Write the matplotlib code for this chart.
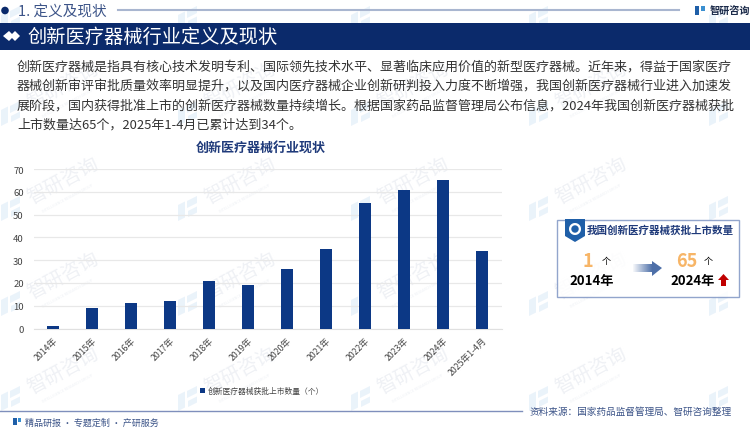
import matplotlib
matplotlib.use("Agg")
import matplotlib.pyplot as plt
from matplotlib.patches import Polygon, Rectangle, Circle, Wedge

plt.rcParams['font.family'] = ['Noto Sans CJK SC', 'DejaVu Sans']

years = ['2014年', '2015年', '2016年', '2017年', '2018年', '2019年', '2020年',
         '2021年', '2022年', '2023年', '2024年', '2025年1-4月']
counts = [1, 9, 11, 12, 21, 19, 26, 35, 55, 61, 65, 34]
yticks = [0, 10, 20, 30, 40, 50, 60, 70]

body_lines = [
    '创新医疗器械是指具有核心技术发明专利、国际领先技术水平、显著临床应用价值的新型医疗器械。近年来，得益于国家医疗',
    '器械创新审评审批质量效率明显提升，以及国内医疗器械企业创新研判投入力度不断增强，我国创新医疗器械行业进入加速发',
    '展阶段，国内获得批准上市的创新医疗器械数量持续增长。根据国家药品监督管理局公布信息，2024年我国创新医疗器械获批',
    '上市数量达65个，2025年1-4月已累计达到34个。',
]

NAVY = '#0b2a6b'
BAR = '#0c3885'
W, H = 750, 431

fig = plt.figure(figsize=(7.5, 4.31), dpi=100)

# page layer in pixel coords, y pointing down
bg = fig.add_axes([0, 0, 1, 1], zorder=0)
bg.set_xlim(0, W)
bg.set_ylim(H, 0)
bg.axis('off')


def watermark(x, y):
    # logo blocks plus the slanted name
    for dx, dy, w, h in [(-9, -4, 7, 16), (0, -8, 10, 7), (1, 2, 9, 6)]:
        bg.add_patch(Polygon([(x + dx, y + dy), (x + dx + w, y + dy - w * 0.5),
                              (x + dx + w, y + dy - w * 0.5 + h), (x + dx, y + dy + h)],
                             color='#eaf3fa', lw=0, zorder=0))
    # the name only where it fits on the page
    if y - 50 < 0 or x + 95 > W:
        return
    bg.text(x + 53, y - 29, '智研咨询', fontsize=14, color='#eff1f5', rotation=28,
            ha='center', va='center', zorder=0)
    bg.text(x + 58, y - 11, 'INTELLIGENCE RESEARCH GROUP', fontsize=2.6, color='#eef1f5',
            rotation=28, ha='center', va='center', zorder=0)


for wy in [20, 115, 210, 305, 400]:
    for wx in [10, 187, 360, 538, 718]:
        watermark(wx, wy)

# section header
bg.add_patch(Circle((5, 11.5), 3.8, color=NAVY, lw=0))
bg.text(18, 12, '1. 定义及现状', fontsize=10.5, color='#3c5488', va='center')
bg.plot([118, 679], [11, 11], color='#a9b6d0', lw=1.5)

# logo
bg.add_patch(Rectangle((695, 7), 4, 9, color='#1f5fa8', lw=0))
bg.add_patch(Rectangle((701, 7), 4, 5, color='#3a8fd0', lw=0))
bg.text(710, 11, '智研咨询', fontsize=7.3, color='#1c2b4a', va='center',
        fontweight='bold')

# title band
bg.add_patch(Rectangle((0, 23.5), W, 27, color=NAVY, lw=0, zorder=2))
bg.add_patch(Polygon([(3, 37), (9, 32), (14, 37), (9, 42)], color='white', lw=0, zorder=3))
bg.add_patch(Polygon([(10, 37), (15, 32), (20, 37), (15, 42)], color='white', lw=0, zorder=3))
bg.text(27, 37, '创新医疗器械行业定义及现状', fontsize=13.85, color='white', va='center',
        zorder=3)

# intro paragraph
for i, line in enumerate(body_lines):
    bg.text(17, 67 + i * 19.3, line, fontsize=9.36, color='#333333', va='center')

# chart title
bg.text(261, 149, '创新医疗器械行业现状', fontsize=9.36, color='#1f3a7a',
        ha='center', va='center', fontweight='bold')

# callout box
bg.add_patch(Rectangle((556.5, 221), 182, 77, fc='white', ec='#7f95c4', lw=1, alpha=0.85))
bg.add_patch(Polygon([(565, 220), (585, 220), (585, 237), (575, 243), (565, 237)],
                     color='#1f5fa8', lw=0))
bg.add_patch(Wedge((575, 230), 6, 0, 360, width=2.3, color='white', lw=0))
bg.text(587, 231, '我国创新医疗器械获批上市数量', fontsize=7.6, color='#1f3a7a',
        va='center', fontweight='bold')
bg.text(588, 262, '1', fontsize=13, color='#f7b567', ha='center', va='center',
        fontweight='bold')
bg.text(606, 262, '个', fontsize=6.5, color='black', ha='center', va='center')
bg.text(592, 281, '2014年', fontsize=9.5, color='black', ha='center', va='center',
        fontweight='bold')
bg.text(687, 262, '65', fontsize=13, color='#f7b567', ha='center', va='center',
        fontweight='bold')
bg.text(708, 262, '个', fontsize=6.5, color='black', ha='center', va='center')
bg.text(693, 281, '2024年', fontsize=9.5, color='black', ha='center', va='center',
        fontweight='bold')
# grey-blue arrow, fading to the left
for k in range(19):
    bg.add_patch(Rectangle((633 + k, 265), 1.1, 8, lw=0, color='#4d6fa8',
                           alpha=0.06 + 0.05 * k))
bg.add_patch(Polygon([(652, 262), (662, 269), (652, 277)], color='#4d6fa8', lw=0))
bg.add_patch(Polygon([(718, 281), (723.5, 275), (729, 281), (726, 281), (726, 287),
                      (721, 287), (721, 281)], color='#c00000', lw=0))

# footer
bg.plot([0, 522], [412.5, 412.5], color='#7f8fbc', lw=1)
bg.add_patch(Rectangle((13, 419), 4, 7, color='#1f5fa8', lw=0))
bg.add_patch(Rectangle((18, 419), 3, 4, color='#3a8fd0', lw=0))
bg.text(25, 423, '精品研报 · 专题定制 · 产研服务', fontsize=6.5, color='#3c5488',
        va='center')
bg.text(530, 411.5, '资料来源：国家药品监督管理局、智研咨询整理', fontsize=6.95,
        color='#3c5488', va='center')

# bar chart
ax = fig.add_axes([33.5 / W, 1 - 329.5 / H, 468 / W, 159.5 / H], zorder=1)
ax.patch.set_alpha(0)
xs = list(range(len(years)))
ax.bar(xs, counts, width=0.33, color=BAR, zorder=3, label='创新医疗器械获批上市数量（个）')
ax.set_xlim(-0.5, len(years) - 0.5)
ax.set_ylim(0, 70)
ax.set_yticks(yticks)
ax.set_xticks(xs)
ax.set_xticklabels(years, rotation=45, ha='right', rotation_mode='anchor')
ax.tick_params(axis='both', length=0, labelcolor='#444444')
ax.tick_params(axis='x', pad=5, labelsize=6.3)
ax.tick_params(axis='y', pad=7, labelsize=6.8)
ax.grid(axis='y', color='#e8e8e8', lw=0.9, zorder=0)
ax.set_axisbelow(True)
for name in ['top', 'left', 'right']:
    ax.spines[name].set_visible(False)
ax.spines['bottom'].set_color('#e0e0e0')
ax.legend(loc='center', bbox_to_anchor=(262 / W, 1 - 392 / H), bbox_transform=fig.transFigure,
          frameon=False, fontsize=5.6, handlelength=0.7, handleheight=0.7,
          labelcolor='#444444', handletextpad=0.4)

fig.savefig('out.png', dpi=100)
